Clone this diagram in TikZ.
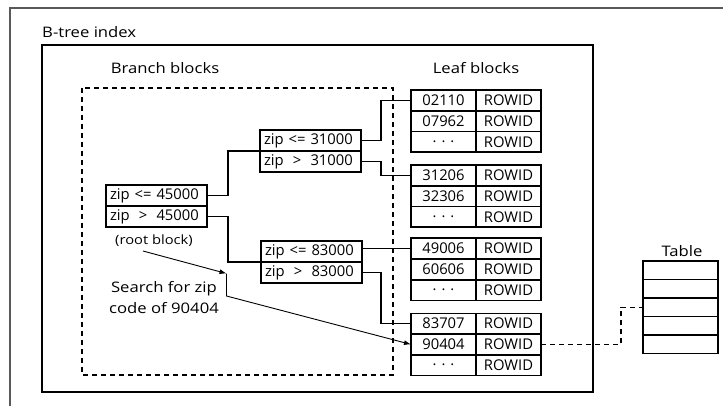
\documentclass[tikz,border=0pt]{standalone}
\usepackage{fontspec}
\setmainfont{Open Sans}
\newfontfamily\lblfont[FakeStretch=1.15]{Open Sans}
\usetikzlibrary{arrows.meta}
\newcommand{\gtbox}{\setbox0\hbox{<=}\makebox[\wd0]{>}}
\begin{document}
\begin{tikzpicture}[x=1pt,y=-1pt,
  cell/.style={draw, line width=1.6pt, anchor=north west, inner sep=0pt, outer sep=0pt,
    font=\fontsize{14.8}{15}\selectfont},
  branchcell/.style={cell, minimum width=101pt, minimum height=21pt, text width=93pt, align=left},
  keycell/.style={cell, minimum width=65pt, minimum height=20.75pt, align=center},
  tablecell/.style={cell, minimum width=75pt, minimum height=18.5pt},
  conn/.style={line width=1.5pt},
  dashline/.style={line width=1.5pt, dash pattern=on 5pt off 4pt},
  lbl/.style={font=\lblfont\fontsize{14.5}{16}\selectfont, inner sep=0pt},
  arr/.style={line width=0.9pt, -{Latex[length=7pt,width=5pt]}}
]
\useasboundingbox (0,0) rectangle (723,406);
% frames
\draw[line width=1.1pt, black!65] (10,406) -- (10,8) -- (723,8);
\draw[line width=1.7pt] (42,45) rectangle (593,392);
\draw[dashline] (82,88) rectangle (393,375);
% labels
\node[lbl, anchor=west] (btree) at (42,32) {B-tree index};
\node[lbl] (branch) at (165,68) {Branch blocks};
\node[lbl] (leaf) at (476,68) {Leaf blocks};
\node[lbl] (table) at (682,251) {Table};
\node[font=\lblfont\fontsize{12.8}{14}\selectfont, inner sep=0pt] (rootlbl) at (154,241) {(root block)};
\node[font=\lblfont\fontsize{14.5}{21}\selectfont, align=center, inner sep=0pt] (search) at (164,298) {Search for zip\\code of 90404};
% root block
\node[branchcell] (ra) at (106,185) {zip <= 45000};
\node[branchcell] (rb) at (106,206) {zip \gtbox{} 45000};
% branch blocks
\node[branchcell] (ba) at (260,130) {zip <= 31000};
\node[branchcell] (bb) at (260,151) {zip \gtbox{} 31000};
\node[branchcell] (ca) at (261,241) {zip <= 83000};
\node[branchcell] (cb) at (261,262) {zip \gtbox{} 83000};
% leaf blocks
\foreach \b/\y/\ka/\kb in {1/90/02110/07962, 2/165/31206/32306, 3/238.3/49006/60606, 4/313.3/83707/90404}{
  \pgfmathsetmacro{\yb}{\y+20.75}
  \pgfmathsetmacro{\yc}{\y+41.5}
  \node[keycell] (k\b a) at (411,\y) {\ka};
  \node[keycell] (w\b a) at (476,\y) {ROWID};
  \node[keycell] (k\b b) at (411,\yb) {\kb};
  \node[keycell] (w\b b) at (476,\yb) {ROWID};
  \node[keycell] (k\b c) at (411,\yc) {.\hspace{5pt}.\hspace{5pt}.};
  \node[keycell] (w\b c) at (476,\yc) {ROWID};
}
% table
\foreach \i in {1,...,5}{
  \node[tablecell] (t\i) at (643,{261+18.5*(\i-1)}) {};
}
% connectors
\draw[conn] (ra.east) -- ++(21,0) |- (ba.south west);
\draw[conn] (rb.east) -- ++(21,0) |- (ca.south west);
\draw[conn] (ba.east) -- ++(20,0) |- (k1a.west);
\draw[conn] (bb.east) -- ++(20,0) |- (k2a.west);
\draw[conn] (ca.east |- k3a.west) -- (k3a.west);
\draw[conn] (cb.east) -- ++(19,0) |- (k4a.west);
\draw[dashline] (w4b.east) -- ++(80,0) |- (t3.west);
% search path
\coordinate (s0) at (143,251);
\coordinate (s1) at (226.5,273.5);
\coordinate (s2) at (226.5,296);
\draw[arr] (s0) -- (s1);
\draw[arr] (s1) -- (s2) -- (k4b.west);
\end{tikzpicture}
\end{document}
